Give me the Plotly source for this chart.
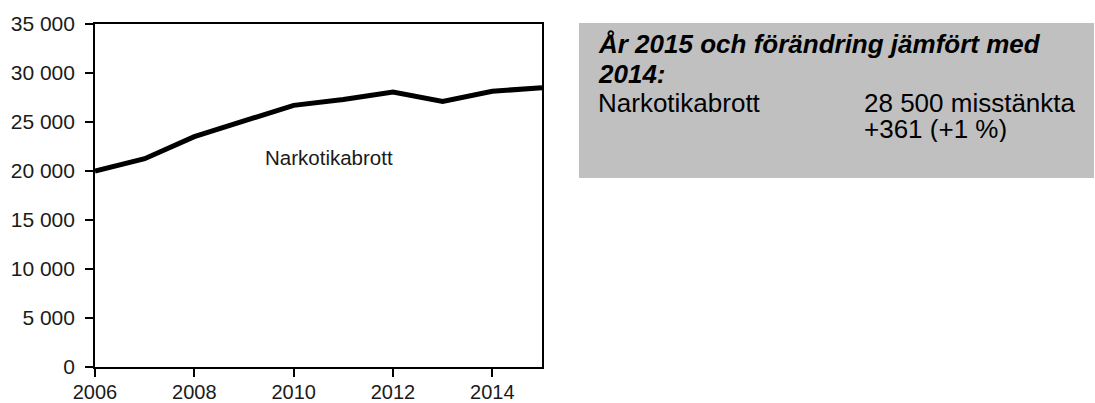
import plotly.graph_objects as go

years = [2006, 2007, 2008, 2009, 2010, 2011, 2012, 2013, 2014, 2015]
narkotikabrott = [20000, 21250, 23500, 25150, 26700, 27300, 28050, 27100, 28139, 28500]

series_label = "Narkotikabrott"
box_title_1 = "År 2015 och förändring jämfört med"
box_title_2 = "2014:"
box_row_label = "Narkotikabrott"
box_row_value = "28 500 misstänkta"
box_row_change = "+361 (+1 %)"

FONT = "Liberation Sans, Arial, sans-serif"

fig = go.Figure()
fig.add_trace(go.Scatter(
    x=years, y=narkotikabrott, mode="lines",
    line=dict(color="#000000", width=5),
    hoverinfo="skip", showlegend=False,
))

axis_common = dict(
    showgrid=False, zeroline=False, showline=True, linecolor="#000000", linewidth=2,
    mirror=True, ticks="outside", ticklen=8, tickwidth=1.5, tickcolor="#000000",
    automargin=False,
)

BOTTOM = 367  # pixel row of the x axis

fig.update_layout(
    width=1095, height=403,
    margin=dict(l=95, r=0, t=24, b=403 - BOTTOM),
    paper_bgcolor="#ffffff", plot_bgcolor="#ffffff",
    separators=". ",
    xaxis=dict(range=[2006, 2015], tickmode="linear", tick0=2006, dtick=2,
               domain=[0, 0.447], tickfont=dict(family=FONT, size=20, color="#1a1a1a"),
               ticklabelstandoff=-2, **axis_common),
    yaxis=dict(range=[0, 35000], tickmode="linear", tick0=0, dtick=5000,
               tickformat=",d", ticksuffix=" ",
               tickfont=dict(family=FONT, size=21, color="#1a1a1a"), **axis_common),
)

# Series label inside plot
fig.add_annotation(x=2010.72, y=21400, xref="x", yref="y", text=series_label,
                   showarrow=False, font=dict(family=FONT, size=20.5, color="#1a1a1a"),
                   xanchor="center", yanchor="middle")

PH = BOTTOM - 24.0

def py(pix):
    return (BOTTOM - pix) / PH

def px(pix):
    return (pix - 95) / 1000.0

# Gray info box
fig.add_shape(type="rect", xref="paper", yref="paper",
              x0=px(579), x1=px(1094), y0=py(178), y1=py(23),
              fillcolor="#c0c0c0", line=dict(width=0), layer="below")

box_font = dict(family=FONT, size=26, color="#000000")
box_items = [
    (597, 44, "<b><i>" + box_title_1 + "</i></b>", None),
    (597, 74, "<b><i>" + box_title_2 + "</i></b>", None),
    (597, 103, box_row_label, None),
    (863, 103, box_row_value, 26),
    (863, 129, box_row_change, 26),
]
for bx, by, txt, h in box_items:
    kw = dict(height=h) if h else {}
    fig.add_annotation(x=px(bx), y=py(by), xref="paper", yref="paper",
                       text=txt, showarrow=False, font=box_font,
                       xanchor="left", yanchor="middle", borderpad=0, **kw)

fig.write_html("out.html", config={"displayModeBar": False},
               post_script="document.body.style.margin='0';document.body.style.padding='0';")
